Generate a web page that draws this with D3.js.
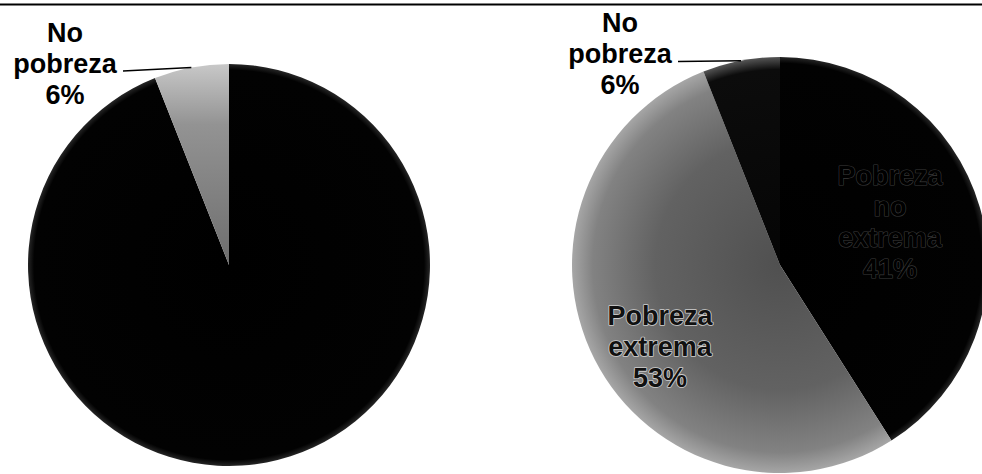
<!DOCTYPE html>
<html>
<head>
<meta charset="utf-8">
<script src="https://cdn.jsdelivr.net/npm/d3@7/dist/d3.min.js"></script>
<style>
  html, body { margin: 0; padding: 0; background: #fff; }
  svg { display: block; }
  text { font-family: "Liberation Sans", Arial, sans-serif; font-weight: bold; }
</style>
</head>
<body>
<svg id="chart" width="982" height="474"></svg>
<script>
// ---- Data ----
const leftCategories = ["Pobreza", "No pobreza"];
const leftValues = [94, 6];
const rightCategories = ["Pobreza no extrema", "Pobreza extrema", "No pobreza"];
const rightValues = [41, 53, 6];

const svg = d3.select("#chart");
const W = 982, H = 474;
svg.append("rect").attr("width", W).attr("height", H).attr("fill", "#fff");

// top rule
svg.append("line").attr("x1", 0).attr("x2", W).attr("y1", 4.5).attr("y2", 4.5)
  .attr("stroke", "#000").attr("stroke-width", 2);

const defs = svg.append("defs");

const lg = defs.append("linearGradient").attr("id", "greyLeft")
  .attr("x1", 0).attr("y1", 0).attr("x2", 0).attr("y2", 1);
lg.append("stop").attr("offset", "0%").attr("stop-color", "#c8c8c8");
lg.append("stop").attr("offset", "30%").attr("stop-color", "#939393");
lg.append("stop").attr("offset", "100%").attr("stop-color", "#6e6e6e");

function radial(id, r, stops) {
  const g = defs.append("radialGradient").attr("id", id)
    .attr("gradientUnits", "userSpaceOnUse").attr("cx", 0).attr("cy", 0).attr("r", r);
  stops.forEach(([o, c]) => g.append("stop").attr("offset", o).attr("stop-color", c));
}

const L = { cx: 229, cy: 265, r: 201 };
const R = { cx: 780, cy: 265, r: 208 };

radial("greyRight", R.r, [["0%", "#505050"], ["60%", "#626262"], ["90%", "#828282"], ["100%", "#a6a6a6"]]);
radial("blackL", L.r, [["0%", "#000"], ["97%", "#020202"], ["100%", "#262626"]]);
radial("blackR", R.r, [["0%", "#000"], ["97%", "#020202"], ["100%", "#262626"]]);
radial("darkR", R.r, [["0%", "#050505"], ["94%", "#0c0c0c"], ["100%", "#555555"]]);

function drawPie(cfg) {
  const pie = d3.pie().sort(null).value(d => d.v);
  const data = cfg.cats.map((c, i) => ({ c, v: cfg.vals[i] }));
  const arcs = pie(data);
  const arc = d3.arc().innerRadius(0).outerRadius(cfg.r);
  const g = svg.append("g").attr("transform", `translate(${cfg.cx},${cfg.cy})`);
  g.selectAll("path").data(arcs).join("path")
    .attr("d", arc)
    .attr("fill", d => cfg.fill[d.data.c])
    .attr("stroke", "none");
  return { arcs, g };
}

const left = drawPie({
  ...L, cats: leftCategories, vals: leftValues,
  fill: { "Pobreza": "url(#blackL)", "No pobreza": "url(#greyLeft)" }
});

const right = drawPie({
  ...R, cats: rightCategories, vals: rightValues,
  fill: { "Pobreza no extrema": "url(#blackR)", "Pobreza extrema": "url(#greyRight)", "No pobreza": "url(#darkR)" }
});

function outerPoint(P, a) {
  const mid = (a.startAngle + a.endAngle) / 2;
  return [P.cx + P.r * Math.sin(mid), P.cy - P.r * Math.cos(mid)];
}

function multiLabel(x, y0, lines, opts = {}) {
  const t = svg.append("text").attr("text-anchor", "middle")
    .attr("font-size", 27).attr("fill", opts.fill || "#000");
  if (opts.stroke) {
    t.attr("stroke", opts.stroke).attr("stroke-width", opts.sw || 1.5)
     .attr("paint-order", "stroke").attr("stroke-linejoin", "round");
  }
  lines.forEach((s, i) => {
    t.append("tspan").attr("x", x).attr("y", y0 + i * 31).text(s);
  });
  return t;
}

function pct(v, vals) { return Math.round(100 * v / d3.sum(vals)) + "%"; }

{
  const a = left.arcs.find(d => d.data.c === "No pobreza");
  const [ex, ey] = outerPoint(L, a);
  multiLabel(65, 42, ["No", "pobreza", pct(a.data.v, leftValues)]);
  svg.append("line").attr("x1", 123).attr("y1", 71).attr("x2", ex).attr("y2", ey)
    .attr("stroke", "#000").attr("stroke-width", 1.6);
}
{
  const a = right.arcs.find(d => d.data.c === "No pobreza");
  const [ex, ey] = outerPoint(R, a);
  multiLabel(620, 32, ["No", "pobreza", pct(a.data.v, rightValues)]);
  svg.append("line").attr("x1", 678).attr("y1", 61.5).attr("x2", ex).attr("y2", ey)
    .attr("stroke", "#000").attr("stroke-width", 1.6);
}
{
  const a = right.arcs.find(d => d.data.c === "Pobreza no extrema");
  multiLabel(890, 185, ["Pobreza", "no", "extrema", pct(a.data.v, rightValues)],
    { fill: "#000", stroke: "#3a3a3a", sw: 1.2 });
  const b = right.arcs.find(d => d.data.c === "Pobreza extrema");
  multiLabel(660, 325, ["Pobreza", "extrema", pct(b.data.v, rightValues)],
    { fill: "#111", stroke: "#cfcfcf", sw: 1.6 });
}
</script>
</body>
</html>
